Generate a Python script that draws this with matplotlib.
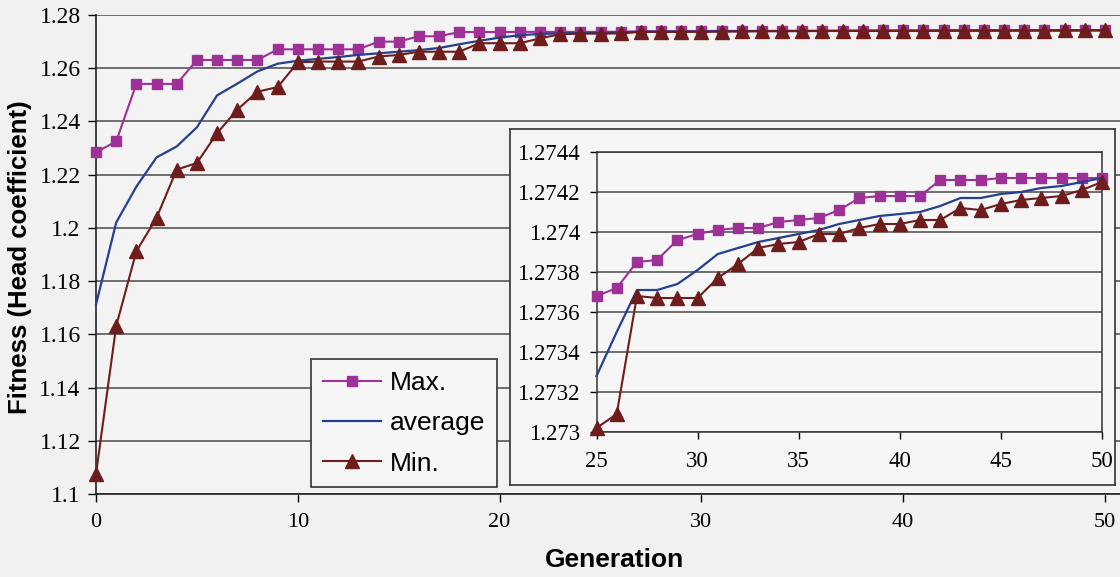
import matplotlib.pyplot as plt

# Generaciones y valores de fitness
gens = list(range(0, 51))

max_fit = [1.2284, 1.2325, 1.2541, 1.2541, 1.2541, 1.2631, 1.2631, 1.2631, 1.2631, 1.2671,
           1.2671, 1.2671, 1.2671, 1.2671, 1.2700, 1.2700, 1.2720, 1.2720, 1.2736, 1.2736,
           1.2736, 1.27366, 1.27366, 1.27366, 1.27366,
           1.27368, 1.27372, 1.27385, 1.27386, 1.27396, 1.27399, 1.27401, 1.27402, 1.27402, 1.27405,
           1.27406, 1.27407, 1.27411, 1.27417, 1.27418, 1.27418, 1.27418, 1.27426, 1.27426, 1.27426,
           1.27427, 1.27427, 1.27427, 1.27427, 1.27427, 1.27427]

avg_fit = [1.1712, 1.2020, 1.2155, 1.2265, 1.2306, 1.2378, 1.2498, 1.2542, 1.2588, 1.2617,
           1.2628, 1.2635, 1.2642, 1.2650, 1.2656, 1.2662, 1.2668, 1.2676, 1.2690, 1.2703,
           1.2715, 1.2724, 1.2729, 1.2731, 1.2732,
           1.27328, 1.27350, 1.27371, 1.27371, 1.27374, 1.27381, 1.27389, 1.27392, 1.27395, 1.27397,
           1.27399, 1.27401, 1.27404, 1.27406, 1.27408, 1.27409, 1.27410, 1.27413, 1.27417, 1.27417,
           1.27419, 1.27420, 1.27422, 1.27423, 1.27425, 1.27427]

min_fit = [1.1075, 1.1631, 1.1912, 1.2038, 1.2219, 1.2244, 1.2356, 1.2444, 1.2512, 1.2529,
           1.2622, 1.2625, 1.2625, 1.2625, 1.2644, 1.2650, 1.2662, 1.2662, 1.2662, 1.2694,
           1.2694, 1.2694, 1.2712, 1.2728, 1.2730,
           1.27302, 1.27309, 1.27368, 1.27367, 1.27367, 1.27367, 1.27377, 1.27384, 1.27392, 1.27394,
           1.27395, 1.27399, 1.27399, 1.27402, 1.27404, 1.27404, 1.27406, 1.27406, 1.27412, 1.27411,
           1.27414, 1.27416, 1.27417, 1.27418, 1.27421, 1.27425]

series_names = ['Max.', 'average', 'Min.']

main_xticks = [0, 10, 20, 30, 40, 50]
main_yticks = [1.1, 1.12, 1.14, 1.16, 1.18, 1.2, 1.22, 1.24, 1.26, 1.28]
main_ylabels = ['1.1', '1.12', '1.14', '1.16', '1.18', '1.2', '1.22', '1.24', '1.26', '1.28']

inset_start = 25
inset_xticks = [25, 30, 35, 40, 45, 50]
inset_yticks = [1.273, 1.2732, 1.2734, 1.2736, 1.2738, 1.274, 1.2742, 1.2744]
inset_ylabels = ['1.273', '1.2732', '1.2734', '1.2736', '1.2738', '1.274', '1.2742', '1.2744']

# Colores
c_max = '#9e3198'
c_avg = '#24408e'
c_min = '#6e1c1c'
c_grid = '#4a4a4a'

plt.rcParams['font.family'] = ['Liberation Serif', 'DejaVu Serif']

W, H = 1120, 577
fig = plt.figure(figsize=(W / 100, H / 100), dpi=100)
fig.patch.set_facecolor('#f1f1f1')

# Grafico principal
ax = fig.add_axes([96 / W, (H - 494) / H, (W - 96) / W, (494 - 15) / H])
ax.set_facecolor('#f3f3f3')
ax.plot(gens, max_fit, color=c_max, marker='s', ms=7.5, lw=1.5, label=series_names[0], clip_on=False, zorder=3)
ax.plot(gens, avg_fit, color=c_avg, lw=1.6, label=series_names[1], clip_on=False, zorder=3)
ax.plot(gens, min_fit, color=c_min, marker='^', ms=10, lw=1.5, label=series_names[2], clip_on=False, zorder=4)

ax.set_xlim(0, 1024 / 20.18)
ax.set_ylim(1.1, 1.28)
ax.set_xticks(main_xticks)
ax.set_yticks(main_yticks)
ax.set_yticklabels(main_ylabels)
ax.yaxis.grid(True, color=c_grid, lw=1.1)
ax.set_axisbelow(True)
for s in ['top', 'right']:
    ax.spines[s].set_visible(False)
for s in ['left', 'bottom']:
    ax.spines[s].set_color('#222222')
    ax.spines[s].set_linewidth(1.2)
ax.tick_params(axis='both', direction='out', length=6, width=1)
ax.tick_params(axis='x', pad=8, labelsize=16)
ax.tick_params(axis='y', pad=5, labelsize=17)

leg = ax.legend(loc='upper left', bbox_to_anchor=(311 / W, 1 - 359 / H), bbox_transform=fig.transFigure,
                borderaxespad=0, fancybox=False, framealpha=1, edgecolor='#333333', facecolor='#f6f6f6',
                prop={'family': 'Liberation Sans', 'size': 19}, handlelength=2.2, handletextpad=0.35,
                labelspacing=0.62, borderpad=0.45)
leg.get_frame().set_linewidth(1.2)

fig.text(20 / W, 1 - 257 / H, 'Fitness (Head coefficient)', rotation=90, ha='center', va='center',
         family='Liberation Sans', fontsize=18.5, fontweight='bold')
fig.text(614 / W, 1 - 560 / H, 'Generation', ha='center', va='center',
         family='Liberation Sans', fontsize=19, fontweight='bold')

# Marco del grafico insertado
frame = fig.add_axes([510 / W, (H - 485) / H, (1115 - 510) / W, (485 - 129) / H])
frame.set_facecolor('#f6f6f6')
frame.set_xticks([])
frame.set_yticks([])
for s in frame.spines.values():
    s.set_color('#333333')
    s.set_linewidth(1.2)

# Grafico insertado (generaciones 25 a 50)
ins = fig.add_axes([596.5 / W, (H - 432) / H, (1102 - 596.5) / W, (432 - 152) / H])
ins.set_facecolor('#f6f6f6')
ins.plot(gens[inset_start:], max_fit[inset_start:], color=c_max, marker='s', ms=7.5, lw=1.5, clip_on=False, zorder=3)
ins.plot(gens[inset_start:], avg_fit[inset_start:], color=c_avg, lw=1.6, clip_on=False, zorder=3)
ins.plot(gens[inset_start:], min_fit[inset_start:], color=c_min, marker='^', ms=10, lw=1.5, clip_on=False, zorder=4)
ins.set_xlim(25, 50)
ins.set_ylim(1.273, 1.2744)
ins.set_xticks(inset_xticks)
ins.set_yticks(inset_yticks)
ins.set_yticklabels(inset_ylabels)
ins.yaxis.grid(True, color=c_grid, lw=1.1)
ins.set_axisbelow(True)
for s in ins.spines.values():
    s.set_color('#333333')
    s.set_linewidth(1.1)
ins.tick_params(axis='both', direction='out', length=5, width=1, labelsize=16.5)
ins.tick_params(axis='x', pad=9)
ins.tick_params(axis='y', pad=7)

plt.savefig('out.png', dpi=100, facecolor=fig.get_facecolor())
